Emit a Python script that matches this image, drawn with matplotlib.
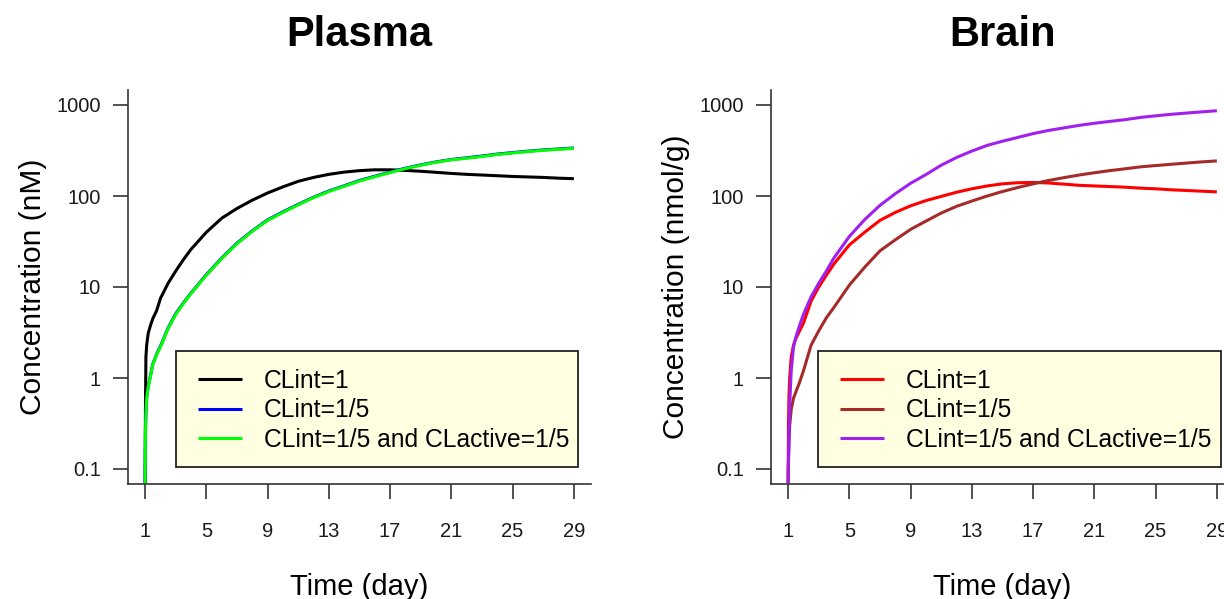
"Plasma and brain concentration over time for three clearance settings."
import matplotlib
matplotlib.use("Agg")
import matplotlib.pyplot as plt
from matplotlib.patches import Rectangle
from matplotlib.ticker import NullLocator

plt.rcParams['font.family'] = ['Liberation Sans', 'DejaVu Sans']

days = [1, 1.02, 1.05, 1.1, 1.2, 1.35, 1.5, 1.75, 2, 2.5, 3, 3.5, 4, 5, 6, 7, 8, 9,
        10, 11, 12, 13, 14, 15, 16, 17, 18, 19, 20, 21, 22, 23, 24, 25, 26, 27, 28, 29]

# plasma (nM)
plasma_clint1 = [0.07, 0.45, 1.7, 2.3, 3.1, 3.8, 4.5, 5.5, 7.5, 11, 15, 20, 26, 40, 57, 73, 90, 108,
                 126, 145, 160, 173, 183, 190, 194, 194, 191, 187, 182, 177, 173, 170, 167, 164, 162, 160, 157, 155]
plasma_clint5 = [0.07, 0.26, 0.41, 0.61, 0.81, 1.07, 1.42, 1.83, 2.24, 3.55, 5.1, 6.7, 8.6, 13.7, 20.8, 30.4, 41.5, 54.7,
                 67, 81, 97, 113.5, 129.5, 148, 165, 183, 202, 220, 237, 252, 263, 275, 289, 300, 311, 321, 329, 337]
plasma_both5 = [0.07, 0.25, 0.4, 0.6, 0.8, 1.05, 1.4, 1.8, 2.2, 3.5, 5.0, 6.6, 8.5, 13.5, 20.5, 30, 41, 54,
                66, 80, 96, 112, 128, 146, 163, 181, 200, 218, 235, 250, 260, 272, 286, 297, 308, 318, 326, 334]

# brain (nmol/g)
brain_clint1 = [0.07, 0.3, 0.6, 1.0, 1.7, 2.3, 2.7, 3.3, 4.0, 7.0, 10, 13.5, 18, 29, 40, 54, 66, 78,
                89, 99, 110, 120, 129, 136, 140, 141, 139, 135, 131, 129, 127, 125, 122, 120, 117, 115, 113, 111]
brain_clint5 = [0.07, 0.12, 0.18, 0.3, 0.45, 0.6, 0.7, 0.9, 1.2, 2.3, 3.3, 4.6, 6.0, 10.5, 16.5, 25, 33, 43,
                53, 65, 77, 88, 100, 112, 124, 136, 148, 159, 170, 180, 190, 199, 209, 216, 223, 230, 237, 243]
brain_both5 = [0.07, 0.12, 0.2, 0.5, 1.2, 2.2, 2.8, 3.8, 5.0, 7.8, 11, 15, 21, 36, 55, 79, 106, 138,
               172, 218, 265, 312, 360, 400, 440, 485, 525, 560, 597, 630, 660, 690, 730, 760, 790, 815, 840, 865]

labels = ["CLint=1", "CLint=1/5", "CLint=1/5 and CLactive=1/5"]
x_ticks = [1, 5, 9, 13, 17, 21, 25, 29]
y_ticks = [0.1, 1, 10, 100, 1000]
y_tick_labels = ["0.1", "1", "10", "100", "1000"]

W, H = 1224, 599
AX_W, AX_H = 463, 394
AX_TOP = 90
AXIS_COLOR = "#333333"


def panel(fig, left_px, title, ylabel, series, colors, legend_x):
    ax = fig.add_axes([left_px / W, 1 - (AX_TOP + AX_H) / H, AX_W / W, AX_H / H])
    for vals, col, lab in zip(series, colors, labels):
        ax.plot(days, vals, color=col, lw=2.2, label=lab, solid_capstyle="butt")

    ax.set_yscale("log")
    ax.set_xlim(-0.12, 30.12)
    ax.set_ylim(10 ** (-1 - 15 / 91), 10 ** (3 + 15 / 91))
    ax.set_xticks(x_ticks)
    ax.set_xticklabels([str(t) for t in x_ticks])
    ax.set_yticks(y_ticks)
    ax.set_yticklabels(y_tick_labels)
    ax.yaxis.set_minor_locator(NullLocator())

    for side in ("top", "right"):
        ax.spines[side].set_visible(False)
    for side in ("left", "bottom"):
        ax.spines[side].set_color(AXIS_COLOR)
        ax.spines[side].set_linewidth(1.2)
    ax.tick_params(axis="both", colors=AXIS_COLOR, labelcolor="#1a1a1a",
                   width=1.2, length=10.5, labelsize=14.5)
    ax.tick_params(axis="x", pad=17)
    ax.tick_params(axis="y", pad=9)

    ax.set_title(title, fontsize=30, fontweight="bold", pad=32)
    ax.set_xlabel("Time (day)", fontsize=21, labelpad=23)
    ax.set_ylabel(ylabel, fontsize=21.5, labelpad=7)

    # legend box drawn like R's legend(bg="lightyellow")
    box = Rectangle((legend_x[0], 0.0431), legend_x[1] - legend_x[0], 0.2945,
                    transform=ax.transAxes, facecolor="#FFFEE0", edgecolor="#222222",
                    lw=1.3, zorder=4)
    ax.add_patch(box)
    ax.legend(loc="upper left", bbox_to_anchor=(legend_x[2], 0.292), frameon=False,
              fontsize=17.7, borderpad=0, borderaxespad=0, handlelength=1.8,
              handletextpad=0.88, labelspacing=0.22).set_zorder(5)
    return ax


fig = plt.figure(figsize=(W / 100, H / 100), dpi=100)

panel(fig, 128, "Plasma", "Concentration (nM)",
      [plasma_clint1, plasma_clint5, plasma_both5],
      ["black", "#0000FF", "#00FF00"], (0.1037, 0.9719, 0.1512))
panel(fig, 771, "Brain", "Concentration (nmol/g)",
      [brain_clint1, brain_clint5, brain_both5],
      ["#FF0000", "#A52A2A", "#A020F0"], (0.1015, 0.972, 0.149))

fig.savefig("out.png", dpi=100)
